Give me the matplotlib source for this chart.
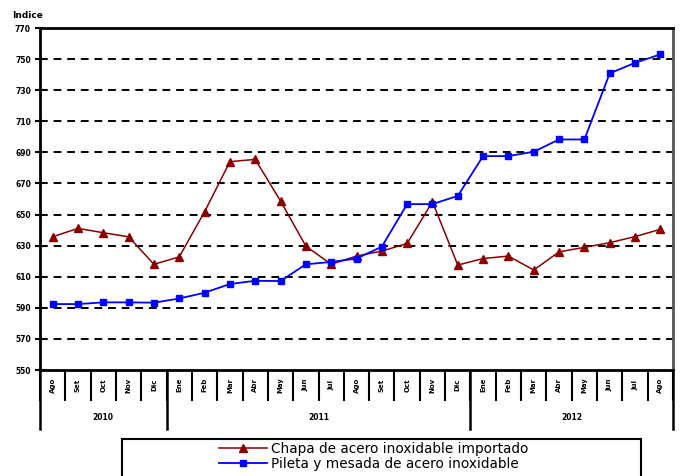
import matplotlib
matplotlib.use("Agg")
import matplotlib.pyplot as plt
from matplotlib.patches import Rectangle
from matplotlib.lines import Line2D

# data (Ago 2010 .. Ago 2012)
months = ["Ago", "Set", "Oct", "Nov", "Dic",
          "Ene", "Feb", "Mar", "Abr", "May", "Jun", "Jul", "Ago", "Set", "Oct", "Nov", "Dic",
          "Ene", "Feb", "Mar", "Abr", "May", "Jun", "Jul", "Ago"]
years = ["2010", "2011", "2012"]
year_spans = [(0, 5), (5, 17), (17, 25)]

chapa = [635.7, 641.1, 638.3, 635.7, 618.0,
         622.8, 651.8, 684.0, 685.5, 658.7, 629.7, 618.0, 623.3, 626.5, 631.4, 658.2, 617.5,
         621.7, 623.3, 614.3, 626.0, 628.9, 631.9, 635.8, 640.5]
pileta = [592.4, 592.4, 593.5, 593.5, 593.3,
          596.0, 599.7, 605.3, 607.4, 607.2, 618.0, 619.5, 621.7, 629.3, 656.7, 656.7, 662.0,
          687.6, 687.6, 690.4, 698.3, 698.3, 740.8, 747.6, 753.0]
y_ticks = [550, 570, 590, 610, 630, 650, 670, 690, 710, 730, 750, 770]

W, H = 683, 476
fig = plt.figure(figsize=(W / 100, H / 100), dpi=100)
ax = fig.add_axes([40 / W, 1 - 370 / H, 633 / W, 342 / H])

x = list(range(len(months)))
ax.plot(x, chapa, color="#8B0000", lw=1.1, marker="^", ms=5.5, label="Chapa de acero inoxidable importado", zorder=3)
ax.plot(x, pileta, color="#0000FF", lw=1.3, marker="s", ms=4.6, label="Pileta y mesada de acero inoxidable", zorder=3)

ax.set_xlim(-0.5, len(months) - 0.5)
ax.set_ylim(550, 770)
ax.set_yticks(y_ticks)
ax.set_yticklabels([str(v) for v in y_ticks], fontsize=5.5, fontweight="bold")
ax.tick_params(axis="y", direction="inout", length=7, width=1.5, pad=3)

# dashed grid, skipping the bottom and top borders
for v in y_ticks[1:-1]:
    ax.axhline(v, color="black", lw=1.4, ls=(0, (4, 3)), zorder=1)

for s in ax.spines.values():
    s.set_linewidth(2)
ax.spines["right"].set_color("#555555")

# month boxes under the axis
ax.set_xticks([i - 0.5 for i in range(len(months) + 1)])
ax.set_xticklabels([])
ax.tick_params(axis="x", direction="out", length=22, width=1.5)
trans = ax.get_xaxis_transform()
for i, m in enumerate(months):
    ax.text(i, -0.044, m, transform=trans, rotation=90, ha="center", va="center",
            fontsize=5, fontweight="bold")

# year labels and separators
for label, (a, b) in zip(years, year_spans):
    ax.text((a + b - 1) / 2, -0.140, label, transform=trans, ha="center", va="center",
            fontsize=5.5, fontweight="bold")
for xb in [-0.5, 4.5, 16.5, 24.5]:
    ax.add_line(Line2D([xb, xb], [0, -0.1725], transform=trans, color="black", lw=1.8, clip_on=False))

fig.text(12 / W, 1 - 15 / H, "Indice", fontsize=6.5, fontweight="bold", va="center", ha="left")

# legend box cut off at the bottom of the image
fig.patches.append(Rectangle((122 / W, -0.02), (641 - 122) / W, (476 - 439) / H + 0.02,
                             transform=fig.transFigure, fill=False, ec="black", lw=1.5))
fig.legend(loc="upper left", bbox_to_anchor=(217 / W, 1 - 440 / H), frameon=False,
           fontsize=9.8, handlelength=3.5, handletextpad=0.35, labelspacing=0.05,
           borderpad=0.15, borderaxespad=0)

fig.savefig("out.png", dpi=100)
